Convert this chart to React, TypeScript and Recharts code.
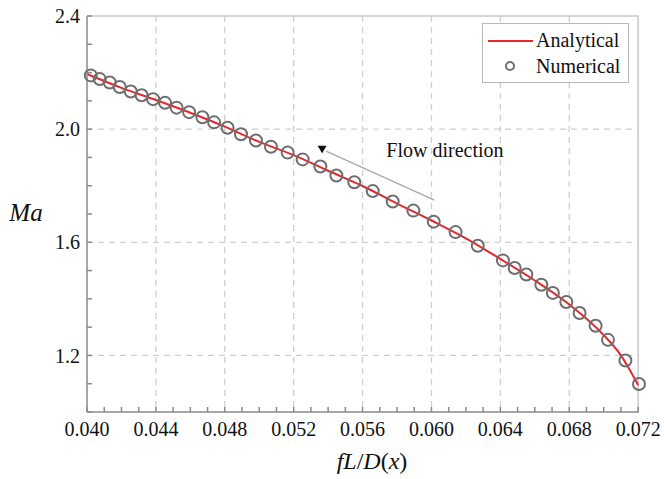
import React from "react";
import {
  CartesianGrid,
  ComposedChart,
  Label,
  Line,
  ReferenceDot,
  ReferenceLine,
  Scatter,
  XAxis,
  YAxis,
} from "recharts";

// numerical points (circles)
const NUM_X = [
  0.04022, 0.04074, 0.04132, 0.0419, 0.04254, 0.04317, 0.04384, 0.04453,
  0.0452, 0.04593, 0.0467, 0.04738, 0.04816, 0.04894, 0.04981, 0.05068,
  0.05165, 0.05252, 0.05355, 0.05448, 0.05552, 0.05659, 0.05775, 0.05895,
  0.06013, 0.0614, 0.06269, 0.06415, 0.06483, 0.06551, 0.06638, 0.06705,
  0.06783, 0.0686, 0.06953, 0.07025, 0.07126, 0.07205,
];
const NUM_MA = [
  2.19, 2.177, 2.165, 2.149, 2.133, 2.12, 2.106, 2.093, 2.076, 2.06, 2.042,
  2.024, 2.005, 1.982, 1.96, 1.938, 1.917, 1.893, 1.868, 1.836, 1.812, 1.781,
  1.744, 1.712, 1.673, 1.636, 1.588, 1.536, 1.509, 1.486, 1.45, 1.421, 1.389,
  1.35, 1.305, 1.255, 1.182, 1.099,
];

// analytical curve (red line)
const ANA_X = [
  0.04, 0.042, 0.044, 0.046, 0.048, 0.05, 0.052, 0.054, 0.056, 0.058, 0.06,
  0.062, 0.064, 0.066, 0.068, 0.07, 0.071, 0.0715, 0.072,
];
const ANA_MA = [
  2.195, 2.146, 2.103, 2.058, 2.009, 1.955, 1.908, 1.853, 1.799, 1.737, 1.677,
  1.614, 1.541, 1.465, 1.38, 1.272, 1.2, 1.15, 1.095,
];

const X_TICKS = [
  0.04, 0.041, 0.042, 0.043, 0.044, 0.045, 0.046, 0.047, 0.048, 0.049, 0.05,
  0.051, 0.052, 0.053, 0.054, 0.055, 0.056, 0.057, 0.058, 0.059, 0.06, 0.061,
  0.062, 0.063, 0.064, 0.065, 0.066, 0.067, 0.068, 0.069, 0.07, 0.071, 0.072,
];
const X_LABELS = [0.04, 0.044, 0.048, 0.052, 0.056, 0.06, 0.064, 0.068, 0.072];
const X_GRID = [0.044, 0.048, 0.052, 0.056, 0.06, 0.064, 0.068];

const Y_TICKS = [
  1.0, 1.1, 1.2, 1.3, 1.4, 1.5, 1.6, 1.7, 1.8, 1.9, 2.0, 2.1, 2.2, 2.3, 2.4,
];
const Y_LABELS = [1.2, 1.6, 2.0, 2.4];
const Y_GRID = [1.2, 1.6, 2.0];

// flow direction annotation
const ARROW_FROM = { x: 0.06017, y: 1.749 };
const ARROW_TO = { x: 0.05388, y: 1.9225 };
const ARROW_HEAD = { x: 0.05365, y: 1.9285 };
const FLOW_TEXT = { x: 0.05738, y: 1.9 };

const numData = NUM_X.map((x, i) => ({ x, ma: NUM_MA[i] }));
const anaData = ANA_X.map((x, i) => ({ x, ma: ANA_MA[i] }));

const FONT = "Liberation Serif, DejaVu Serif, serif";
const RED = "#e8262b";
const CIRCLE = "#6e6e6e";

const isIn = (list: number[], v: number) =>
  list.some((t) => Math.abs(t - v) < 1e-6);

const HollowCircle = (props: any) => {
  const { cx, cy } = props;
  return (
    <circle cx={cx} cy={cy} r={6} fill="none" stroke={CIRCLE} strokeWidth={2} />
  );
};

export default function App() {
  return (
    <div style={{ position: "absolute", left: 0, top: 0, width: 664, height: 479 }}>
      <ComposedChart
        width={664}
        height={479}
        margin={{ top: 16, right: 25, bottom: 0, left: 0 }}
        style={{ background: "#fff" }}
      >
        <CartesianGrid
          stroke="#cfcfcf"
          strokeDasharray="6 5"
          strokeWidth={1.3}
          horizontalValues={Y_GRID}
          verticalValues={X_GRID}
        />
        <ReferenceLine y={2.4} stroke="#c8c8c8" strokeWidth={1.5} />
        <ReferenceLine x={0.072} stroke="#c8c8c8" strokeWidth={1.5} />
        <XAxis
          dataKey="x"
          type="number"
          domain={[0.04, 0.072]}
          ticks={X_TICKS}
          interval={0}
          height={67}
          tickSize={-5}
          tickMargin={15}
          stroke="#8a8a8a"
          strokeWidth={1.5}
          tick={{ fill: "#111", fontSize: 20, fontFamily: FONT }}
          tickFormatter={(v: number) => (isIn(X_LABELS, v) ? v.toFixed(3) : "")}
        >
          <Label
            content={() => (
              <text
                x={372}
                y={469}
                textAnchor="middle"
                fontFamily={FONT}
                fontSize={24}
                fill="#111"
              >
                <tspan fontStyle="italic">fL</tspan>
                <tspan>/</tspan>
                <tspan fontStyle="italic">D</tspan>
                <tspan>(</tspan>
                <tspan fontStyle="italic">x</tspan>
                <tspan>)</tspan>
              </text>
            )}
          />
        </XAxis>
        <YAxis
          type="number"
          domain={[1.0, 2.4]}
          ticks={Y_TICKS}
          interval={0}
          width={87}
          tickSize={-5}
          tickMargin={12}
          stroke="#8a8a8a"
          strokeWidth={1.5}
          tick={{ fill: "#111", fontSize: 20, fontFamily: FONT }}
          tickFormatter={(v: number) => (isIn(Y_LABELS, v) ? v.toFixed(1) : "")}
        >
          <Label
            content={() => (
              <text
                x={26}
                y={221}
                textAnchor="middle"
                fontFamily={FONT}
                fontSize={25}
                fontStyle="italic"
                fill="#111"
              >
                Ma
              </text>
            )}
          />
        </YAxis>
        <ReferenceLine
          segment={[ARROW_FROM, ARROW_TO]}
          stroke="#aaaaaa"
          strokeWidth={1.5}
        />
        <ReferenceDot
          x={ARROW_HEAD.x}
          y={ARROW_HEAD.y}
          shape={(p: any) => (
            <polygon
              points={`${p.cx - 4.5},${p.cy - 3.5} ${p.cx + 4.5},${p.cy - 3.5} ${p.cx},${p.cy + 4}`}
              fill="#111"
            />
          )}
        />
        <ReferenceDot
          x={FLOW_TEXT.x}
          y={FLOW_TEXT.y}
          shape={(p: any) => (
            <text
              x={p.cx}
              y={p.cy}
              fontFamily={FONT}
              fontSize={20}
              fill="#111"
            >
              Flow direction
            </text>
          )}
        />
        <Scatter
          data={numData}
          dataKey="ma"
          shape={HollowCircle}
          isAnimationActive={false}
        />
        <Line
          data={anaData}
          dataKey="ma"
          type="monotone"
          stroke={RED}
          strokeWidth={2}
          dot={false}
          activeDot={false}
          isAnimationActive={false}
        />
      </ComposedChart>
      <div
        style={{
          position: "absolute",
          left: 482,
          top: 23,
          width: 145,
          height: 58,
          border: "1.5px solid #b8b8b8",
          background: "#fff",
          fontFamily: FONT,
          fontSize: 20,
          color: "#111",
        }}
      >
        <svg
          width={60}
          height={58}
          style={{ position: "absolute", left: 0, top: 0 }}
        >
          <line x1={5} x2={50} y1={17} y2={17} stroke={RED} strokeWidth={2} />
          <circle cx={27} cy={42} r={4} fill="none" stroke={CIRCLE} strokeWidth={2} />
        </svg>
        <div style={{ position: "absolute", left: 53, top: 4, lineHeight: "24px" }}>
          Analytical
        </div>
        <div style={{ position: "absolute", left: 53, top: 30, lineHeight: "24px" }}>
          Numerical
        </div>
      </div>
    </div>
  );
}
